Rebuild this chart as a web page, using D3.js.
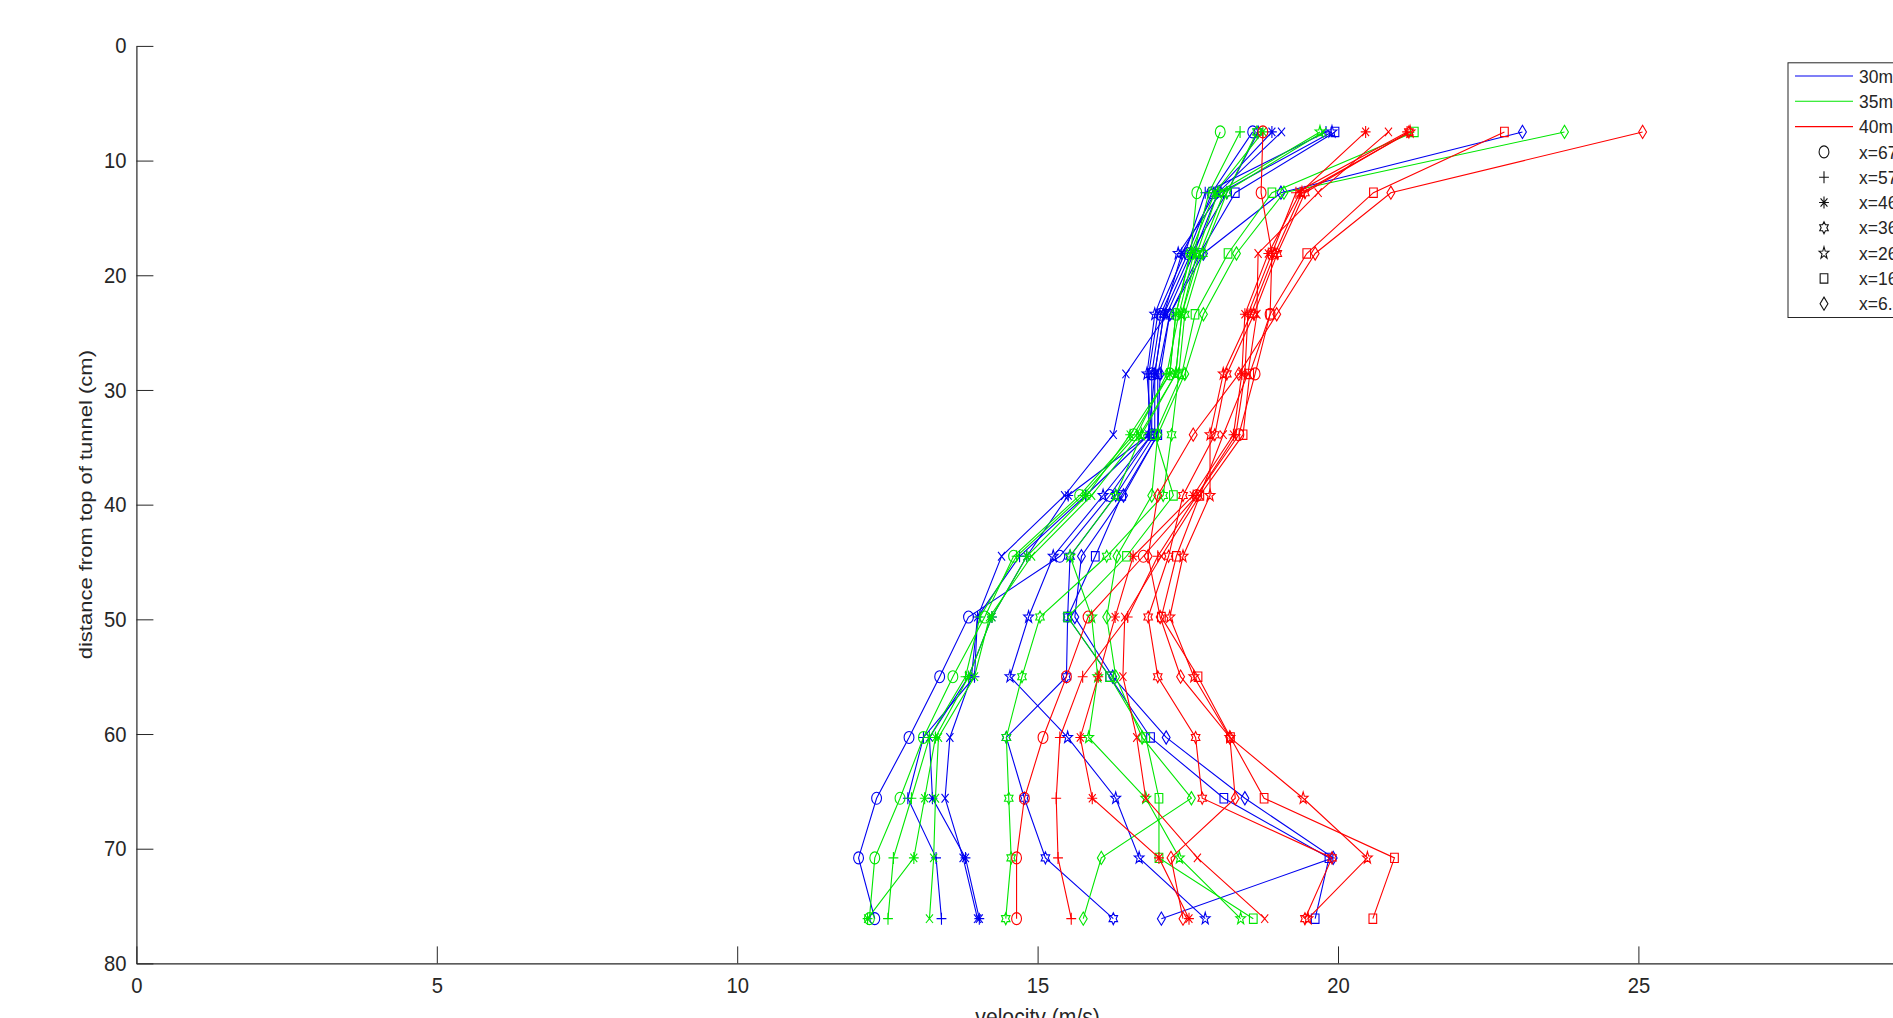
<!DOCTYPE html>
<html>
<head>
<meta charset="UTF-8">
<title>Velocity profiles</title>
<script src="https://cdn.jsdelivr.net/npm/d3@7"></script>
<style>
  body { margin: 0; background: #fff; overflow: hidden; }
  text { font-family: "Liberation Sans", Arial, Helvetica, sans-serif; fill: #262626; }
</style>
</head>
<body>
<script>
// measurement depths (cm from top of tunnel)
const depth = [7.5, 12.8, 18.1, 23.4, 28.6, 33.9, 39.2, 44.5, 49.8, 55.0, 60.3, 65.6, 70.8, 76.1];

const speeds = ['30m/s', '35m/s', '40m/s'];
const speedColors = ['#0000f0', '#00e600', '#ff0000'];
const positions = ['x=67.5', 'x=57', 'x=46.5', 'x=36', 'x=26.5', 'x=16', 'x=6.5'];
// marker order matches the rows of v30 / v35 / v40
const markers = ['circle', 'plus', 'asterisk', 'hexagram', 'pentagram', 'square', 'diamond', 'cross'];

const v30 = [
  [18.58, 17.90, 17.50, 17.05, 16.90, 16.90, 16.20, 15.37, 13.85, 13.37, 12.86, 12.32, 12.02, 12.29],
  [19.80, 17.79, 17.45, 17.00, 16.85, 16.85, 15.80, 14.70, 14.00, 13.95, 13.10, 12.84, 13.31, 13.40],
  [18.90, 17.95, 17.40, 17.10, 16.95, 16.85, 15.51, 14.82, 14.24, 13.85, 13.20, 13.25, 13.80, 14.03],
  [18.67, 18.15, 17.55, 17.10, 16.95, 16.95, 16.30, 15.54, 15.50, 15.48, 14.48, 14.78, 15.13, 16.26],
  [19.90, 18.05, 17.34, 16.95, 16.82, 16.90, 16.09, 15.26, 14.85, 14.54, 15.50, 16.30, 16.69, 17.79],
  [19.95, 18.29, 17.70, 17.20, 17.00, 17.00, 16.40, 15.96, 15.50, 16.20, 16.88, 18.10, 19.85, 19.62],
  [23.07, 19.05, 17.76, 17.20, 17.04, 17.00, 16.43, 15.73, 15.62, 16.25, 17.14, 18.45, 19.92, 17.06],
  [19.06, 18.00, 17.60, 17.15, 16.47, 16.26, 15.45, 14.40, 14.00, 13.90, 13.54, 13.46, 13.76, 14.00]
];
const v35 = [
  [18.04, 17.65, 17.55, 17.30, 17.20, 16.60, 15.70, 14.60, 14.12, 13.59, 13.10, 12.71, 12.29, 12.20],
  [18.37, 17.85, 17.60, 17.35, 17.15, 16.65, 15.75, 14.65, 14.04, 13.80, 13.20, 12.90, 12.60, 12.51],
  [18.75, 17.95, 17.54, 17.30, 17.20, 16.54, 15.82, 14.82, 14.24, 13.85, 13.30, 13.12, 12.94, 12.17],
  [18.65, 18.15, 17.75, 17.45, 17.35, 17.23, 17.09, 16.15, 15.04, 14.74, 14.48, 14.52, 14.56, 14.47],
  [19.70, 18.00, 17.65, 17.40, 17.30, 16.73, 16.30, 15.54, 15.90, 16.00, 15.85, 16.80, 17.36, 18.38],
  [21.27, 18.90, 18.17, 17.62, 17.40, 16.95, 17.26, 16.48, 15.50, 16.20, 16.80, 17.02, 17.02, 18.59],
  [23.77, 19.10, 18.31, 17.76, 17.45, 17.00, 16.90, 16.32, 16.15, 16.30, 16.74, 17.56, 16.06, 15.76],
  [19.75, 18.10, 17.70, 17.40, 17.30, 16.70, 15.90, 14.90, 14.20, 13.95, 13.35, 13.30, 13.27, 13.20]
];
const v40 = [
  [18.75, 18.72, 18.90, 18.87, 18.62, 18.35, 17.65, 16.76, 15.84, 15.48, 15.09, 14.78, 14.65, 14.65],
  [21.15, 19.30, 18.90, 18.50, 18.45, 18.30, 17.65, 17.00, 16.50, 15.75, 15.37, 15.31, 15.34, 15.56],
  [20.46, 19.37, 18.84, 18.45, 18.40, 18.26, 17.59, 16.59, 16.29, 16.01, 15.71, 15.91, 17.02, 17.52],
  [21.18, 19.45, 18.99, 18.60, 18.15, 17.95, 17.42, 17.18, 16.84, 17.00, 17.63, 17.74, 19.90, 19.45],
  [21.20, 19.40, 18.95, 18.55, 18.09, 17.87, 17.87, 17.42, 17.20, 17.60, 18.20, 19.42, 20.49, 19.50],
  [22.77, 20.59, 19.48, 18.87, 18.53, 18.42, 17.70, 17.31, 17.06, 17.67, 18.21, 18.77, 20.94, 20.58],
  [25.07, 20.88, 19.62, 18.98, 18.35, 17.59, 17.00, 16.84, 17.04, 17.38, 18.20, 18.29, 17.22, 17.42],
  [20.84, 19.67, 18.67, 18.65, 18.50, 18.09, 17.70, 17.06, 16.45, 16.42, 16.65, 16.80, 17.66, 18.78]
];

// the 30 tick sits just past the right edge of the window, so it is left out
const xTicks = [0, 5, 10, 15, 20, 25];
const yTicks = [0, 10, 20, 30, 40, 50, 60, 70, 80];

const width = 1893;
const height = 1018;
const squeeze = 0.82; // markers in the original are a little narrower than tall
const textSqueeze = 0.92;

const x = d3.scaleLinear().domain([0, 30]).range([136.4, 1938.8]);
const y = d3.scaleLinear().domain([0, 80]).range([45.9, 963.4]);

// marker shapes, size = half height in px
const shapes = {
  circle: { draw(c, r) { c.moveTo(r, 0); c.arc(0, 0, r, 0, 2 * Math.PI); } },
  plus: { draw(c, r) { c.moveTo(-r, 0); c.lineTo(r, 0); c.moveTo(0, -r); c.lineTo(0, r); } },
  cross: { draw(c, r) { const d = r * 0.72; c.moveTo(-d, -d); c.lineTo(d, d); c.moveTo(-d, d); c.lineTo(d, -d); } },
  asterisk: { draw(c, r) {
    const d = r * 0.7;
    c.moveTo(-r, 0); c.lineTo(r, 0); c.moveTo(0, -r); c.lineTo(0, r);
    c.moveTo(-d, -d); c.lineTo(d, d); c.moveTo(-d, d); c.lineTo(d, -d);
  } },
  square: { draw(c, r) { const d = r * 0.78; c.rect(-d, -d, 2 * d, 2 * d); } },
  diamond: { draw(c, r) {
    c.moveTo(0, -1.1 * r); c.lineTo(0.8 * r, 0); c.lineTo(0, 1.1 * r); c.lineTo(-0.8 * r, 0); c.closePath();
  } },
  pentagram: { draw(c, r) {
    const R = r * 1.05, ri = R * 0.4;
    for (let i = 0; i < 10; i++) {
      const a = -Math.PI / 2 + i * Math.PI / 5, rr = i % 2 ? ri : R;
      i ? c.lineTo(rr * Math.cos(a), rr * Math.sin(a)) : c.moveTo(rr * Math.cos(a), rr * Math.sin(a));
    }
    c.closePath();
  } },
  hexagram: { draw(c, r) {
    const R = r, ri = R * 0.577;
    for (let i = 0; i < 12; i++) {
      const a = -Math.PI / 2 + i * Math.PI / 6, rr = i % 2 ? ri : R;
      i ? c.lineTo(rr * Math.cos(a), rr * Math.sin(a)) : c.moveTo(rr * Math.cos(a), rr * Math.sin(a));
    }
    c.closePath();
  } }
};
const symbol = name => d3.symbol().type(shapes[name]).size(6)();

const svg = d3.select('body').append('svg')
  .attr('width', width)
  .attr('height', height);

// data: one line per speed and position
const line = d3.line().x(d => x(d[0])).y(d => y(d[1]));
const allSpeeds = [v30, v35, v40];

allSpeeds.forEach((rows, si) => {
  const g = svg.append('g').attr('stroke', speedColors[si]).attr('fill', 'none');
  rows.forEach((vals, mi) => {
    const pts = vals.map((v, i) => [v, depth[i]]);
    g.append('path')
      .attr('d', line(pts))
      .attr('stroke-width', 1.1);
    g.selectAll(null)
      .data(pts)
      .join('path')
      .attr('d', symbol(markers[mi]))
      .attr('transform', d => `translate(${x(d[0])},${y(d[1])}) scale(${squeeze},1)`)
      .attr('vector-effect', 'non-scaling-stroke')
      .attr('stroke-width', 1.1);
  });
});

// axes (MATLAB style, ticks inside, no box)
const yAxis = svg.append('g')
  .attr('transform', `translate(${x(0)},0)`)
  .call(d3.axisLeft(y).tickValues(yTicks).tickSizeInner(-17).tickSizeOuter(0).tickPadding(11));
const xAxis = svg.append('g')
  .attr('transform', `translate(0,${y(80)})`)
  .call(d3.axisBottom(x).tickValues(xTicks).tickSizeInner(-17).tickSizeOuter(0).tickPadding(14));

[yAxis, xAxis].forEach(a => {
  a.select('.domain').attr('stroke', '#262626').attr('stroke-width', 1.2);
  a.selectAll('.tick line').attr('stroke', '#262626');
  a.selectAll('.tick text')
    .attr('font-size', 22)
    .attr('fill', '#262626')
    .attr('transform', `scale(${textSqueeze},1)`);
});
yAxis.selectAll('.tick text').attr('x', -10 / textSqueeze);

svg.append('text')
  .attr('transform', `translate(92,${(y(0) + y(80)) / 2}) rotate(-90) scale(1,${squeeze})`)
  .attr('text-anchor', 'middle')
  .attr('font-size', 22)
  .text('distance from top of tunnel (cm)');

svg.append('text')
  .attr('transform', `translate(${(x(0) + x(30)) / 2},1025) scale(${textSqueeze},1)`)
  .attr('text-anchor', 'middle')
  .attr('font-size', 23)
  .text('velocity (m/s)');

// legend
const legend = svg.append('g');
const rowY = i => 76 + i * 25.3;
legend.append('rect')
  .attr('x', 1788).attr('y', 62.8)
  .attr('width', 200).attr('height', 254.7)
  .attr('fill', '#fff').attr('stroke', '#262626').attr('stroke-width', 1);

speeds.forEach((s, i) => {
  legend.append('line')
    .attr('x1', 1795).attr('x2', 1853)
    .attr('y1', rowY(i)).attr('y2', rowY(i))
    .attr('stroke', speedColors[i]).attr('stroke-width', 1.1);
  legend.append('text')
    .attr('transform', `translate(1859,${rowY(i)}) scale(${textSqueeze},1)`)
    .attr('dy', '0.35em').attr('font-size', 19).attr('fill', '#000')
    .text(s);
});
positions.forEach((p, i) => {
  const yy = rowY(i + 3);
  legend.append('path')
    .attr('d', symbol(markers[i]))
    .attr('transform', `translate(1824,${yy}) scale(${squeeze},1)`)
    .attr('vector-effect', 'non-scaling-stroke')
    .attr('fill', 'none').attr('stroke', '#111').attr('stroke-width', 1.1);
  legend.append('text')
    .attr('transform', `translate(1859,${yy}) scale(${textSqueeze},1)`)
    .attr('dy', '0.35em').attr('font-size', 19).attr('fill', '#000')
    .text(p);
});
</script>
</body>
</html>
